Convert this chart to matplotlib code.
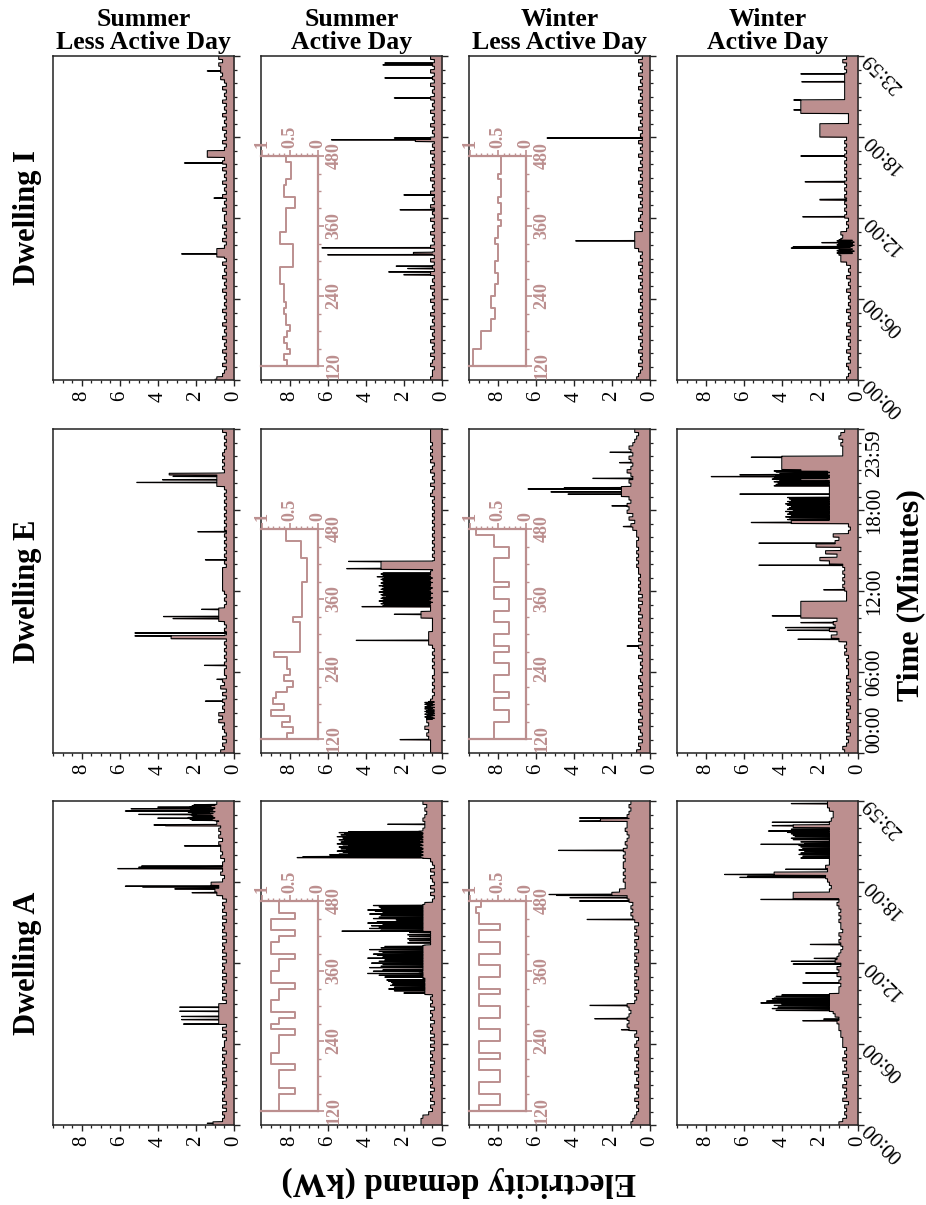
import numpy as np
import matplotlib
matplotlib.use('Agg')
import matplotlib.pyplot as plt
from matplotlib.ticker import MultipleLocator

plt.rcParams['font.family'] = ['Liberation Serif', 'DejaVu Serif']

ROSE = '#bc8f8f'
ALPH = '0123456789abcdefghijklmnopqrstuvwxyzABCDEFGHIJKLMNOPQRSTUVWXYZ'  # char -> 0.1 kW units

dwellings = ['Dwelling I', 'Dwelling E', 'Dwelling A']
day_types = ['Summer\nLess Active Day', 'Summer\nActive Day',
             'Winter\nLess Active Day', 'Winter\nActive Day']
time_ticks = [0, 360, 720, 1080, 1440]
time_labels = ['00:00', '06:00', '12:00', '18:00', '23:59']
kw_ticks = [0, 2, 4, 6, 8]
inset_time_ticks = [120, 240, 360, 480]
inset_frac_ticks = [0, 0.5, 1]
inset_frac_labels = ['0', '0.5', '1']

# ---- base demand, 15-min steps, four 6-hour blocks (0.1 kW per char) ----
base_I_sl = ["965464546454645464546454", "546454645464599546454645",
             "546454645464546465ee5464", "546454645464546457677868"]
base_I_sa = ["655465464546454645464546", "454645464546454645464546",
             "454645464546454645464546", "454645464546454645464546"]
base_I_wl = ["765464546454645464546454", "546454645464546888884546",
             "546454645464546454645464", "546454645464546454645464"]
base_I_wa = ["654564546454645464546454", "5464546454699a9989896565",
             "767676767676767676767676", "kkkk555uuuu7777777767686"]

base_E_sl = ["756464565868565646475645", "545454545454545888854545",
             "666666645454545454545454", "545454599995656565454546"]
base_E_sa = ["666678797869786654545454", "4545454577775555bb666666",
             "666666545454545454545454", "545465464546546565656666"]
base_E_wl = ["756464564645646456464564", "545464564656465646564646",
             "5656566767676776779a8b9c", "bcabfffab9aca9ab9ab98768"]
base_E_wa = ["786564656465646564656465", "565657676aebfcdbuuuuu666",
             "78787878fkbh9mcad545zfff", "fffffffuuvuuEEEE88898a97"]

base_A_sl = ["b65646465654646564656465", "546464888888464656464656",
             "464656464656464656469a8c", "6576665767786878798ckfh9"]
base_A_sa = ["bba756465646564656465646", "464656465646565999999999",
             "999999999999999999546464", "5646456aaaaaaaaa99a9898a"]
base_A_wl = ["a98767686768676867686768", "7687bcbcbabc878687868786",
             "87868786878689a9a9bckgdd", "ededeededecdcbcdccbcbaba"]
base_A_wa = ["a86767586768675867686768", "8899aabacdhgfhfaa9a9bab9",
             "cba989a9a899a9a9abayyfef", "ghIghfffgfgfghyyyfeddfgg"]

# ---- short events: (start minute, duration minutes, kW) ----
spk_I_sl = [(2, 2, 1.0), (547, 10, 0.9), (560, 2, 2.75), (808, 2, 1.05),
            (964, 2, 2.6), (1373, 2, 1.4)]
spk_I_sa = [(467, 3, 2.0), (480, 2, 2.8), (495, 2, 1.8), (505, 3, 2.4), (556, 2, 6.0),
            (560, 8, 1.5), (587, 2, 6.3), (756, 2, 2.2), (822, 2, 2.0), (1060, 8, 1.4),
            (1067, 2, 5.8), (1075, 2, 2.5), (1253, 2, 2.5), (1342, 2, 3.0),
            (1400, 2, 3.1), (1408, 2, 3.0)]
spk_I_wl = [(618, 2, 3.9), (1075, 2, 5.4)]
spk_I_wa = [(586, 2, 3.5), (592, 2, 3.4), (610, 2, 1.9), (725, 2, 2.9), (800, 4, 2.0),
            (880, 3, 2.77), (995, 2, 3.0), (1200, 2, 3.37), (1244, 2, 3.37),
            (1325, 2, 2.95), (1360, 2, 3.0)]

spk_E_sl = [(230, 2, 1.5), (327, 2, 0.9), (389, 2, 1.55), (508, 14, 3.3), (520, 2, 5.2),
            (533, 2, 5.2), (597, 2, 3.2), (606, 2, 3.7), (638, 2, 1.7), (858, 2, 1.5),
            (983, 2, 1.9), (1202, 2, 5.1), (1214, 2, 3.75), (1229, 2, 3.2), (1236, 8, 3.4)]
spk_E_sa = [(59, 2, 2.2), (500, 2, 4.5), (616, 2, 2.5), (650, 2, 4.2), (816, 37, 3.2),
            (819, 2, 5.0), (851, 2, 4.9)]
spk_E_wl = [(475, 2, 1.2), (1006, 2, 1.4), (1098, 2, 2.0), (1150, 2, 4.3), (1160, 2, 5.2),
            (1173, 2, 6.4), (1178, 2, 4.5), (1220, 2, 3.0), (1290, 2, 1.6), (1336, 2, 2.1)]
spk_E_wa = [(505, 2, 3.15), (545, 2, 3.7), (557, 2, 3.8), (579, 2, 3.0), (609, 2, 4.5),
            (725, 2, 1.8), (834, 2, 5.2), (932, 2, 5.2), (1024, 2, 5.6), (1150, 2, 6.2),
            (1217, 2, 4.5), (1228, 2, 7.7), (1236, 2, 6.2), (1314, 2, 5.6)]

spk_A_sl = [(7, 2, 1.4), (448, 2, 2.65), (468, 2, 2.75), (482, 2, 2.75), (505, 2, 2.85),
            (523, 2, 2.85), (1032, 2, 2.2), (1048, 4, 3.1), (1058, 2, 4.8), (1061, 2, 5.7),
            (1139, 2, 6.1), (1143, 6, 3.1), (1145, 2, 5.0), (1150, 2, 4.85), (1240, 2, 2.6),
            (1330, 6, 3.6), (1333, 2, 4.2), (1363, 2, 4.0), (1380, 2, 5.0), (1395, 2, 5.7),
            (1405, 2, 5.4), (1412, 2, 4.0)]
spk_A_sa = [(634, 2, 2.65), (861, 2, 5.25), (1188, 2, 7.6), (1192, 2, 7.3),
            (1200, 2, 5.9), (1336, 2, 2.85)]
spk_A_wl = [(423, 2, 1.5), (472, 2, 2.9), (531, 2, 3.15), (913, 2, 3.3), (995, 2, 3.7),
            (1010, 2, 4.2), (1020, 2, 4.9), (1024, 2, 5.3), (1220, 2, 4.8), (1350, 2, 3.7),
            (1352, 10, 2.6), (1364, 2, 3.7)]
spk_A_wa = [(463, 2, 2.9), (470, 2, 1.8), (542, 2, 5.1), (550, 2, 4.8), (560, 2, 4.5),
            (631, 2, 2.9), (675, 2, 2.75), (715, 2, 3.4), (727, 2, 3.5), (740, 2, 2.3),
            (802, 2, 2.5), (1002, 2, 5.1), (1100, 2, 6.2), (1105, 2, 5.8), (1113, 2, 7.0),
            (1136, 2, 3.8), (1247, 2, 5.1), (1300, 2, 3.7), (1306, 2, 4.7), (1330, 2, 4.5),
            (1345, 2, 4.5), (1428, 2, 3.5)]

# ---- dense switching periods: (start minute, minutes per char, values) ----
bst_I_wa = [(562, 2, "3b43a2b4a33b2a4b3a2b43a3b2a4b3a")]
bst_E_sa = [(150, 2, "5848596748594768495847695849685749586947"),
            (653, 2, "6v6u7w6v5u6x7v6u6w5v6t7v6w6u5v6x6v7u6w6v5u6v7x6u6v6w5v6u7v6w6v5u6y6v7u6w6v")]
bst_E_wa = [(1035, 2, "fBffgAfCffzfgBfhAffCfgyfBfgAffzfhBffCfgAfBfgzffAhfBff"),
            (1185, 2, "fIfgHfuGffIhfFuHfgIfGfuHffIgFuffHgI")]
bst_A_sl = [(1352, 2, "amcnbkaodlbmcnakbmdoaldnbmcoakbncmal")]
bst_A_sa = [(580, 2, "999k9999p999s9a9p999r99q99k99s99t9a9"),
            (653, 2, "aauaaaxabaDaaacAaavaaaaCaawaaavaaBaaaxaauaaaDaavaaayaAaaavaxaaaCaaawaauaa"),
            (801, 2, "6666i6666h666i6666h666i6666h66"),
            (861, 2, "aawaaaCaaxaaBaavaaDaayaaaoaaAaaxaaawaaCaavaazaaDaaawaaxaaAaa"),
            (1187, 2, "aObRcaPaSbNcaQaTbOcaRaPbScNaaQbTcOaRbaPcSaNbQacTaObRcaPaSbNc")]
bst_A_wa = [(505, 2, "ffHfffJffGfffIffEffHfffJffGffIfffHffEf"),
            (1180, 2, "fffuffftfffvffufffsffvfftfffuffvfffsfffuf"),
            (1262, 2, "fffyffzfffxffyffzfffyffwffzfff")]

# ---- inset: share of activity, 10-min steps from minute 120 to 480 ----
ins_I_sa = [.55, .60, .50, .55, .60, .55, .50, .57, .57, .60, .57, .60, .60, .60, .68, .68, .68,
            .45, .45, .45, .45, .68, .68, .57, .57, .57, .57, .42, .42, .60, .60, .57, .48, .48, .48, .57]
ins_I_wl = [.95, .95, .95, .80, .80, .80, .62, .62, .55, .55, .62, .62, .55, .55, .50, .50, .55, .55,
            .50, .50, .50, .55, .50, .50, .45, .50, .45, .45, .50, .45, .45, .45, .50, .45, .45, .45]
ins_E_sa = [.55, .45, .65, .50, .84, .60, .80, .75, .55, .45, .60, .50, .55, .56, .78, .33, .33, .33,
            .33, .33, .45, .28, .28, .28, .28, .28, .28, .19, .19, .19, .19, .30, .30, .30, .58, .58]
ins_E_wl = [.58, .58, .58, .30, .30, .58, .58, .30, .58, .58, .58, .30, .30, .58, .58, .30, .58, .58,
            .30, .30, .58, .58, .30, .30, .58, .58, .30, .58, .58, .58, .58, .30, .30, .58, .58, .90]
ins_A_sa = [.70, .70, .70, .42, .70, .70, .70, .42, .84, .84, .70, .70, .70, .42, .84, .70, .42, .84,
            .84, .70, .70, .42, .84, .84, .70, .70, .42, .84, .84, .70, .42, .84, .84, .42, .70, .70]
ins_A_wl = [.85, .47, .47, .85, .85, .47, .47, .85, .85, .47, .85, .85, .47, .47, .85, .85, .47, .47,
            .85, .85, .47, .85, .85, .47, .47, .85, .85, .47, .47, .85, .85, .47, .85, .85, .90, .80]

panels = {
    (0, 0): (base_I_sl, spk_I_sl, []), (0, 1): (base_I_sa, spk_I_sa, []),
    (0, 2): (base_I_wl, spk_I_wl, []), (0, 3): (base_I_wa, spk_I_wa, bst_I_wa),
    (1, 0): (base_E_sl, spk_E_sl, []), (1, 1): (base_E_sa, spk_E_sa, bst_E_sa),
    (1, 2): (base_E_wl, spk_E_wl, []), (1, 3): (base_E_wa, spk_E_wa, bst_E_wa),
    (2, 0): (base_A_sl, spk_A_sl, bst_A_sl), (2, 1): (base_A_sa, spk_A_sa, bst_A_sa),
    (2, 2): (base_A_wl, spk_A_wl, []), (2, 3): (base_A_wa, spk_A_wa, bst_A_wa),
}
insets = {(0, 1): ins_I_sa, (0, 2): ins_I_wl, (1, 1): ins_E_sa,
          (1, 2): ins_E_wl, (2, 1): ins_A_sa, (2, 2): ins_A_wl}


def decode(s):
    return np.array([ALPH.index(ch) / 10.0 for ch in s])


def build(base, spikes, bursts):
    v = np.repeat(decode(''.join(base)), 15).astype(float)
    for t0, step, s in bursts:
        seg = np.repeat(decode(s), step)
        n = min(len(seg), 1440 - t0)
        v[t0:t0 + n] = seg[:n]
    for t0, d, k in spikes:
        v[t0:t0 + d] = np.maximum(v[t0:t0 + d], k)
    return v


W, H = 926, 1205
fig = plt.figure(figsize=(W / 100, H / 100), dpi=100)
col_x = [53, 261, 469, 677]
row_top = [56, 429, 801]
pw, ph = 181, 324
FRAME = '#222222'

for r in range(3):
    for c in range(4):
        x0, y0 = col_x[c], row_top[r]
        ax = fig.add_axes([x0 / W, 1 - (y0 + ph) / H, pw / W, ph / H])
        base, spk, bst = panels[(r, c)]
        v = build(base, spk, bst)
        v = np.append(v, v[-1])
        t = np.arange(1441)
        ax.fill_betweenx(t, 0, v, color=ROSE, lw=0, zorder=1)
        ax.plot(v, t, color='black', lw=0.8, zorder=2)
        ax.set_xlim(9.5, 0)
        ax.set_ylim(0, 1440)
        ax.set_xticks(kw_ticks)
        ax.set_xticklabels([str(k) for k in kw_ticks], rotation=90, fontsize=15)
        ax.xaxis.set_minor_locator(MultipleLocator(0.5))
        ax.yaxis.set_ticks_position('right')
        ax.set_yticks(time_ticks)
        ax.yaxis.set_minor_locator(MultipleLocator(60))
        ax.tick_params(which='major', direction='out', length=4, width=1.0, pad=4, color=FRAME)
        ax.tick_params(which='minor', direction='out', length=2.2, width=0.9, color=FRAME)
        for sp in ax.spines.values():
            sp.set_color(FRAME)
            sp.set_linewidth(1.1)
        if c == 3:
            if r == 1:
                labs = ax.set_yticklabels(time_labels, rotation=90, fontsize=15,
                                          ha='left', va='center')
                labs[0].set_va('bottom')
                labs[-1].set_va('top')
                ax.tick_params(axis='y', which='major', pad=1)
            else:
                ax.set_yticklabels(time_labels, rotation=135, rotation_mode='anchor',
                                   ha='right', va='center', fontsize=15)
                ax.tick_params(axis='y', which='major', pad=2)
        else:
            ax.set_yticklabels([])

        if (r, c) in insets:
            vals = np.array(insets[(r, c)])
            edges = 120 + 10 * np.arange(len(vals) + 1)
            xs = np.repeat(vals, 2)
            ys = np.repeat(edges, 2)[1:-1]
            iax = fig.add_axes([x0 / W, 1 - (y0 + ph - 14) / H, 57 / W, 210 / H])
            iax.patch.set_alpha(0)
            iax.plot(xs, ys, color=ROSE, lw=1.4)
            iax.set_xlim(1.02, 0)
            iax.set_ylim(120, 480)
            iax.xaxis.set_ticks_position('top')
            iax.set_xticks(inset_frac_ticks)
            iax.set_xticklabels(inset_frac_labels, rotation=90, fontsize=13,
                                fontweight='bold', color=ROSE)
            iax.xaxis.set_minor_locator(MultipleLocator(0.1))
            iax.yaxis.set_ticks_position('right')
            iax.set_yticks(inset_time_ticks)
            iax.set_yticklabels([str(k) for k in inset_time_ticks], rotation=90,
                                fontsize=13, fontweight='bold', color=ROSE, va='center')
            iax.yaxis.set_minor_locator(MultipleLocator(30))
            iax.tick_params(which='major', direction='out', length=4, width=1.2,
                            color=ROSE, pad=1.5)
            iax.tick_params(which='minor', direction='out', length=2.5, width=1.0, color=ROSE)
            for sp in iax.spines.values():
                sp.set_color(ROSE)
                sp.set_linewidth(1.6)
            iax.spines['left'].set_visible(False)

for c in range(4):
    fig.text((col_x[c] + pw / 2) / W, 1 - 54 / H, day_types[c], ha='center', va='bottom',
             fontsize=18.5, fontweight='bold', linespacing=1.0)
for r in range(3):
    fig.text(27 / W, 1 - (row_top[r] + ph / 2) / H, dwellings[r], rotation=90,
             ha='center', va='center', fontsize=22, fontweight='bold')

fig.text(459 / W, 1 - 1182 / H, 'Electricity demand (kW)', rotation=180,
         ha='center', va='center', fontsize=24, fontweight='bold')
fig.text(911 / W, 1 - 595 / H, 'Time (Minutes)', rotation=90,
         ha='center', va='center', fontsize=23, fontweight='bold')

fig.savefig('out.png', dpi=100)
